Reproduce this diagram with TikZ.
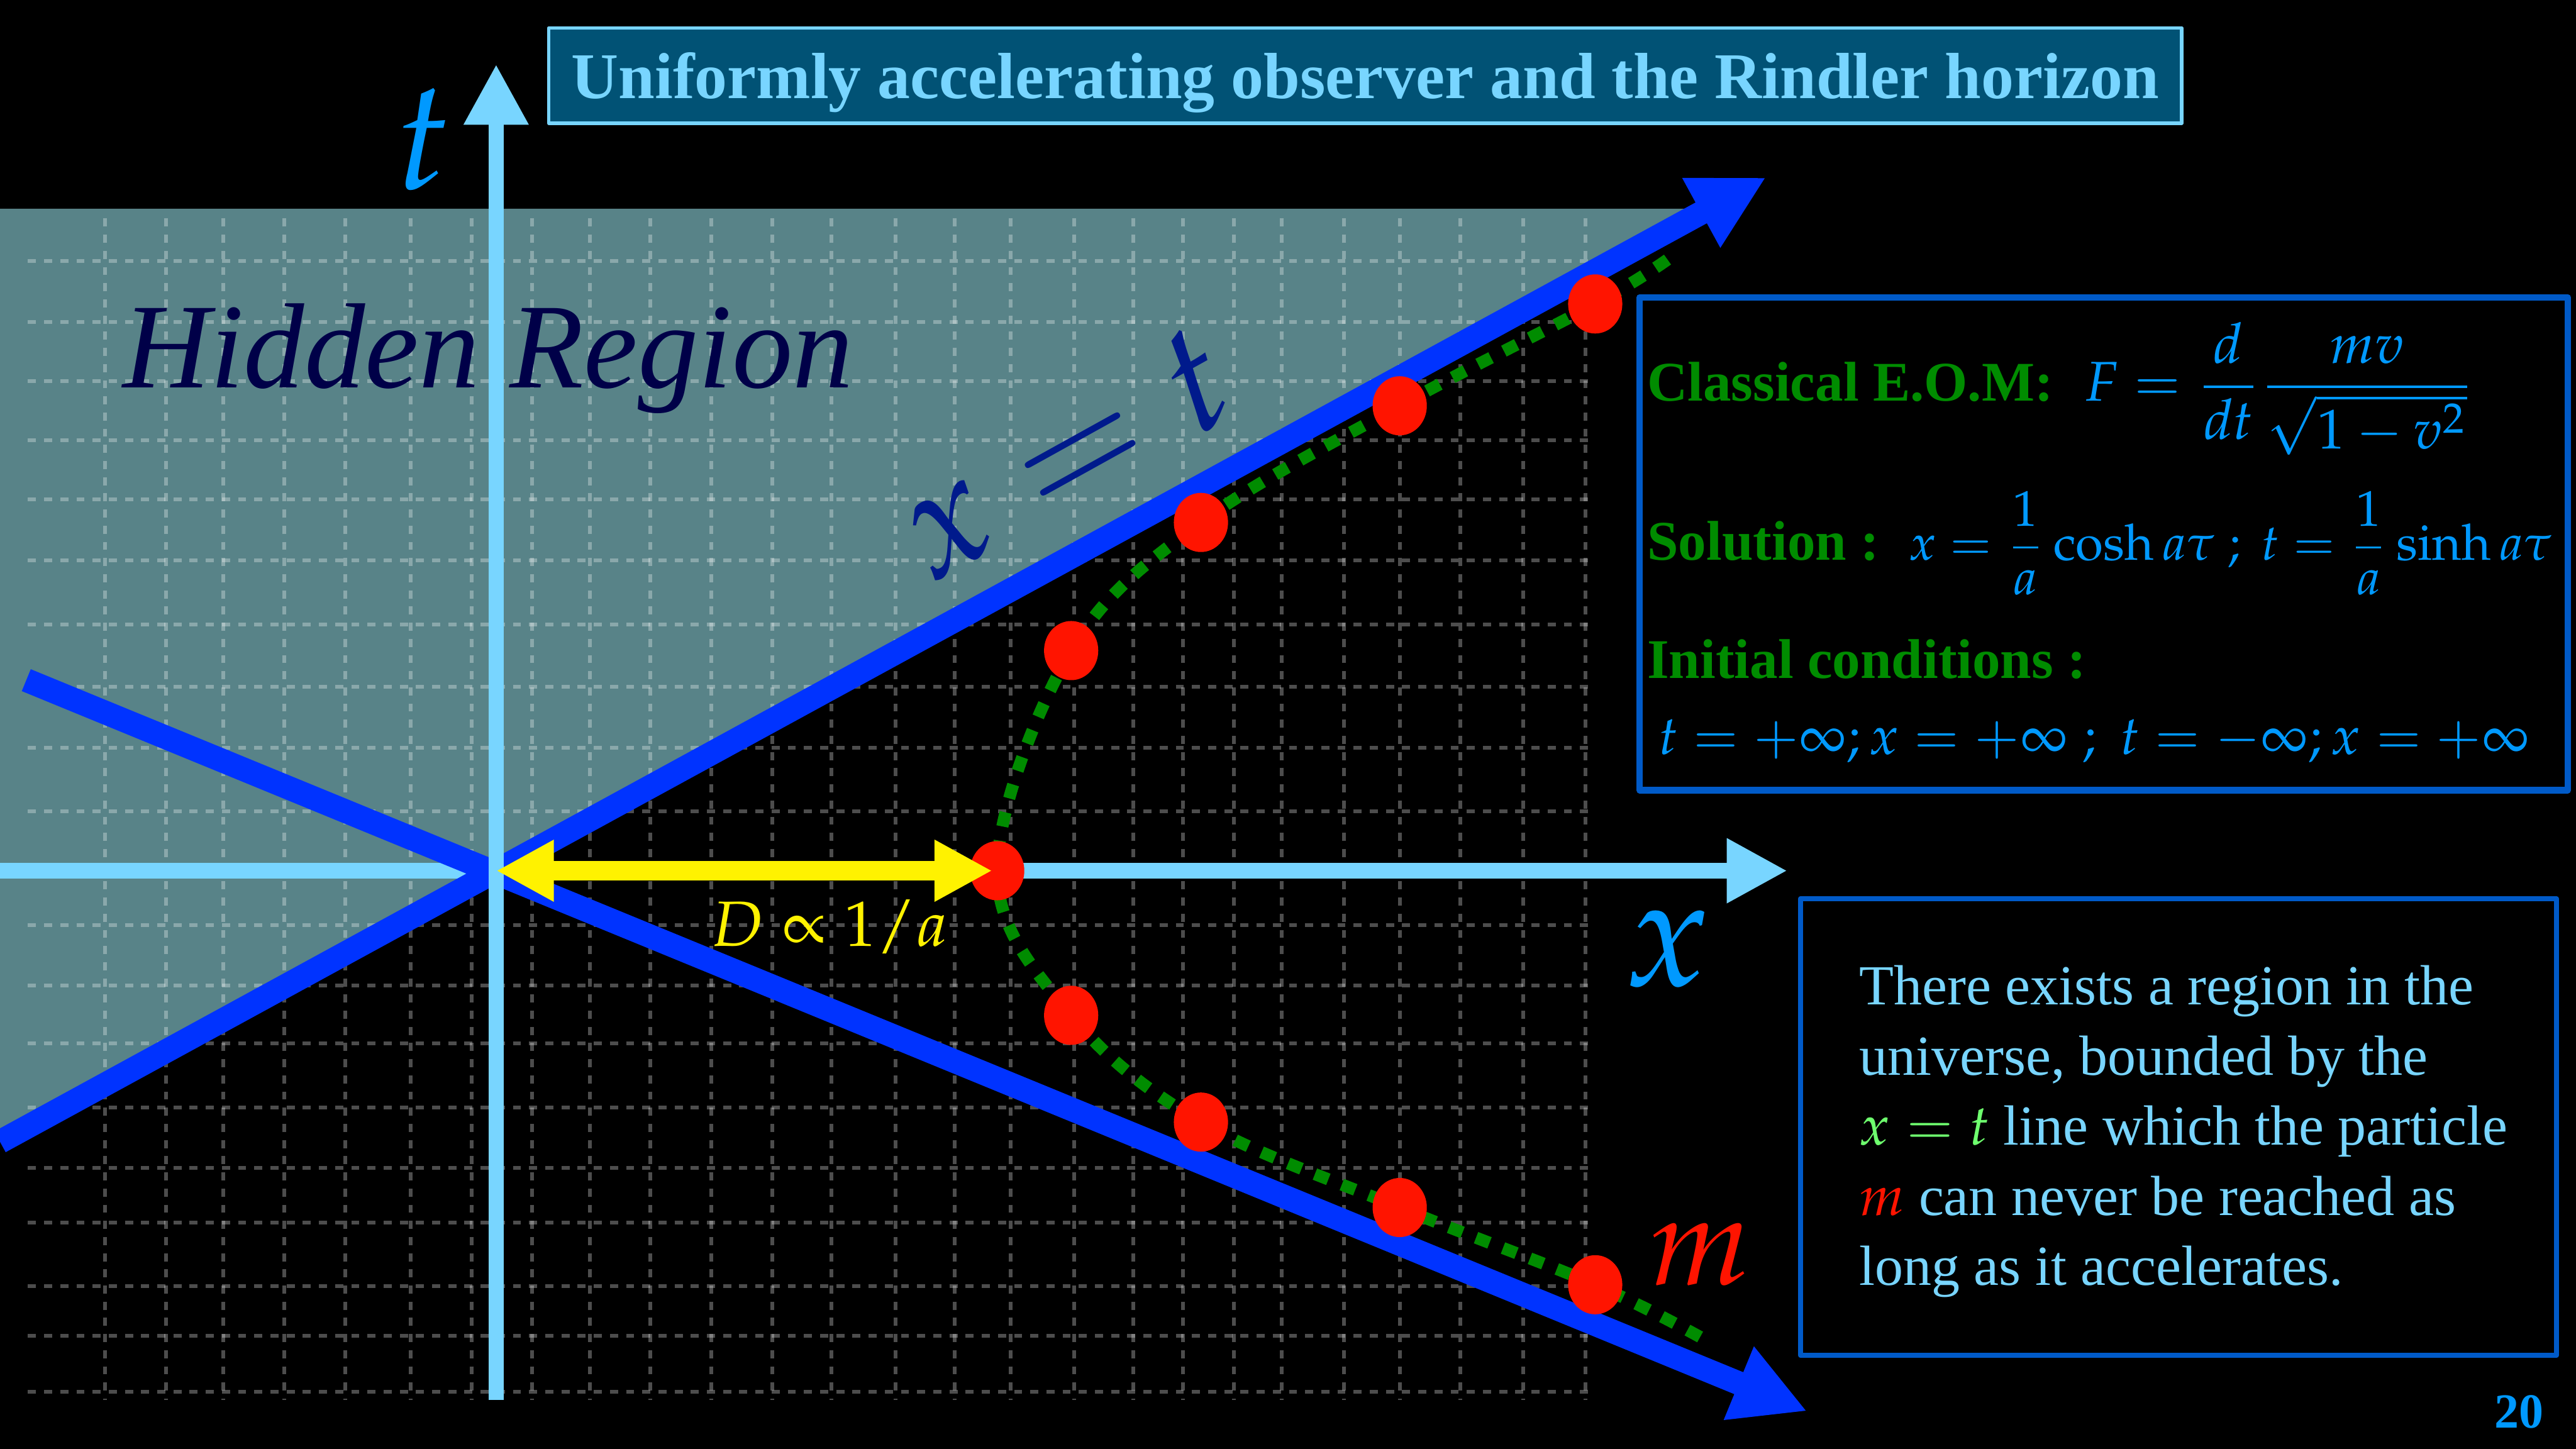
\documentclass[tikz,border=0pt]{standalone}
\usepackage{amsmath}
\usepackage{mathpazo}
\usepackage{fontspec}
\setmainfont{Liberation Serif}
\usetikzlibrary{arrows.meta}
\definecolor{hiddenteal}{RGB}{88,131,136}
\definecolor{axisblue}{RGB}{120,213,255}
\definecolor{lineblue}{RGB}{0,51,255}
\definecolor{mathblue}{RGB}{0,153,255}
\definecolor{labelnavy}{RGB}{0,26,140}
\definecolor{regionnavy}{RGB}{0,0,72}
\definecolor{dotred}{RGB}{255,20,0}
\definecolor{pathgreen}{RGB}{0,140,0}
\definecolor{titlefill}{RGB}{1,82,117}
\definecolor{boxblue}{RGB}{0,90,200}
\definecolor{xtgreen}{RGB}{110,255,110}
\begin{document}
\begin{tikzpicture}[x=0.1mm,y=-0.1mm,line join=round,
	gridline/.style={white,opacity=0.3,line width=0.65pt,dash pattern=on 1.4pt off 1.4pt},
	axis/.style={axisblue,line width=2.7pt,-{Triangle[length=10.5pt,width=10.5pt]}},
	horizon/.style={lineblue,line width=4.1pt,-{Triangle[length=12.8pt,width=12.8pt]}},
	worldline/.style={pathgreen,line width=2.1pt,dash pattern=on 2.5pt off 2.5pt},
	distarrow/.style={yellow,line width=3.4pt,{Triangle[length=10pt,width=10pt]}-{Triangle[length=10pt,width=10pt]}},
	infobox/.style={draw=boxblue,inner sep=0pt},
	eomlabel/.style={anchor=base west,inner sep=0pt,pathgreen,font=\fontsize{9.7}{11}\selectfont\bfseries},
	eommath/.style={anchor=base west,inner sep=0pt,mathblue,font=\fontsize{9.7}{11}\selectfont},
	axislabel/.style={anchor=base west,inner sep=0pt,font=\fontsize{27}{30}\selectfont}]
	\useasboundingbox (0,0) rectangle (1568,882);
	\fill[black] (0,0) rectangle (1568,882);
	\path
	(302,530) coordinate (O)
	(302,852) coordinate (tFoot)
	(302,39) coordinate (tTip)
	(0,530) coordinate (xFoot)
	(1088,530) coordinate (xTip)
	(0,695) coordinate (hzFoot)
	(1075,108) coordinate (hzTip)
	(16,414) coordinate (pastFoot)
	(1100,859) coordinate (pastTip)
	(604,530) coordinate (dEnd)
	(607,530) coordinate (P0)
	(652,396) coordinate (A1)
	(731,318) coordinate (A2)
	(852,247) coordinate (A3)
	(971,185) coordinate (A4)
	(652,618) coordinate (B1)
	(731,683) coordinate (B2)
	(852,735) coordinate (B3)
	(971,782) coordinate (B4)
	(1015,158) coordinate (U)
	(1037,815) coordinate (L)
	;
	\fill[hiddenteal] (0,127) -- (1040,127) -- (hzFoot) -- cycle;
	\foreach \gx in {64,101,136,173,210,250,287,324,359,396,433,470,506,545,581,615,654,690,720,751,780,818,852,889,927,965}
	\draw[gridline] (\gx,133) -- (\gx,852);
	\foreach \gy in {159,196,232,268,304,341,380,418,455,494,530,563,600,635,674,711,744,783,813,847}
	\draw[gridline] (17,\gy) -- (970,\gy);
	\draw[axis] (xFoot) -- (xTip);
	\draw[horizon] (hzFoot) -- (hzTip);
	\draw[horizon] (pastFoot) -- (pastTip);
	\draw[axis] (tFoot) -- (tTip);
	\draw[worldline] plot[smooth,tension=0.6] coordinates {(U) (A4) (A3) (A2) (A1) (P0) (B1) (B2) (B3) (B4) (L)};
	\foreach \p in {P0,A1,A2,A3,A4,B1,B2,B3,B4} \fill[dotred] (\p) ellipse [x radius=16.5, y radius=18];
	\draw[distarrow] (O) -- (dEnd);
	
	\node[axislabel,mathblue] (tLabel) at (240,115) {$t$};
	\node[axislabel,mathblue] (xLabel) at (988,600) {$x$};
	\node[axislabel,dotred,font=\fontsize{22}{24}\selectfont] (mLabel) at (1003,782) {$m$};
	\node[inner sep=0pt,labelnavy,rotate=29,font=\fontsize{27}{30}\selectfont] (xtLabel) at (647,276) {$x=t$};
	\node[anchor=base west,inner sep=0pt,regionnavy,font=\fontsize{21}{24}\selectfont\itshape] (hidden) at (74,236) {Hidden Region};
	\node[anchor=base west,inner sep=0pt,yellow,font=\fontsize{11.1}{13}\selectfont] (dLabel) at (432,576) {$D\propto 1/a$};
	\node[fill=titlefill,draw=axisblue,line width=0.6pt,text=axisblue,inner sep=0pt,minimum width=9.94cm,minimum height=0.58cm,text depth=0pt,font=\fontsize{11.3}{13}\selectfont\bfseries] (title) at (831,46) {Uniformly accelerating observer and the Rindler horizon};
	
	\node[infobox,line width=1.1pt,minimum width=5.65cm,minimum height=3cm] (eomBox) at (1280.5,331) {};
	\node[eomlabel] (eomText) at (1002,244) {Classical E.O.M:};
	\node[eommath] (eomEq) at (1268,244) {$F=\dfrac{d}{dt}\dfrac{mv}{\sqrt{1-v^2}}$};
	\node[eomlabel] (solText) at (1002,341) {Solution :};
	\node[eommath,font=\fontsize{8.7}{11}\selectfont] (solEq) at (1161,341) {$x=\dfrac{1}{a}\cosh a\tau\ ;\ t=\dfrac{1}{a}\sinh a\tau$};
	\node[eomlabel] (initText) at (1002,413) {Initial conditions :};
	\node[eommath,font=\fontsize{9.4}{11}\selectfont] (initEq) at (1009,459) {$t=+\infty;x=+\infty\;;\;t=-\infty;x=+\infty$};
	
	\node[infobox,line width=0.9pt,minimum width=4.6cm,minimum height=2.78cm] (noteBox) at (1326,686) {};
	\node[anchor=north west,inner sep=0pt,align=left,axisblue,font=\fontsize{9.8}{12.15}\selectfont] (note) at (1131,587) {There exists a region in the\\universe, bounded by the\\\textcolor{xtgreen}{$x=t$} line which the particle\\\textcolor{dotred}{$m$} can never be reached as\\long as it accelerates.};
	\node[anchor=base east,inner sep=0pt,mathblue,font=\fontsize{8.5}{10}\selectfont\bfseries] (pageNum) at (1549,869) {20};
\end{tikzpicture}
\end{document}
